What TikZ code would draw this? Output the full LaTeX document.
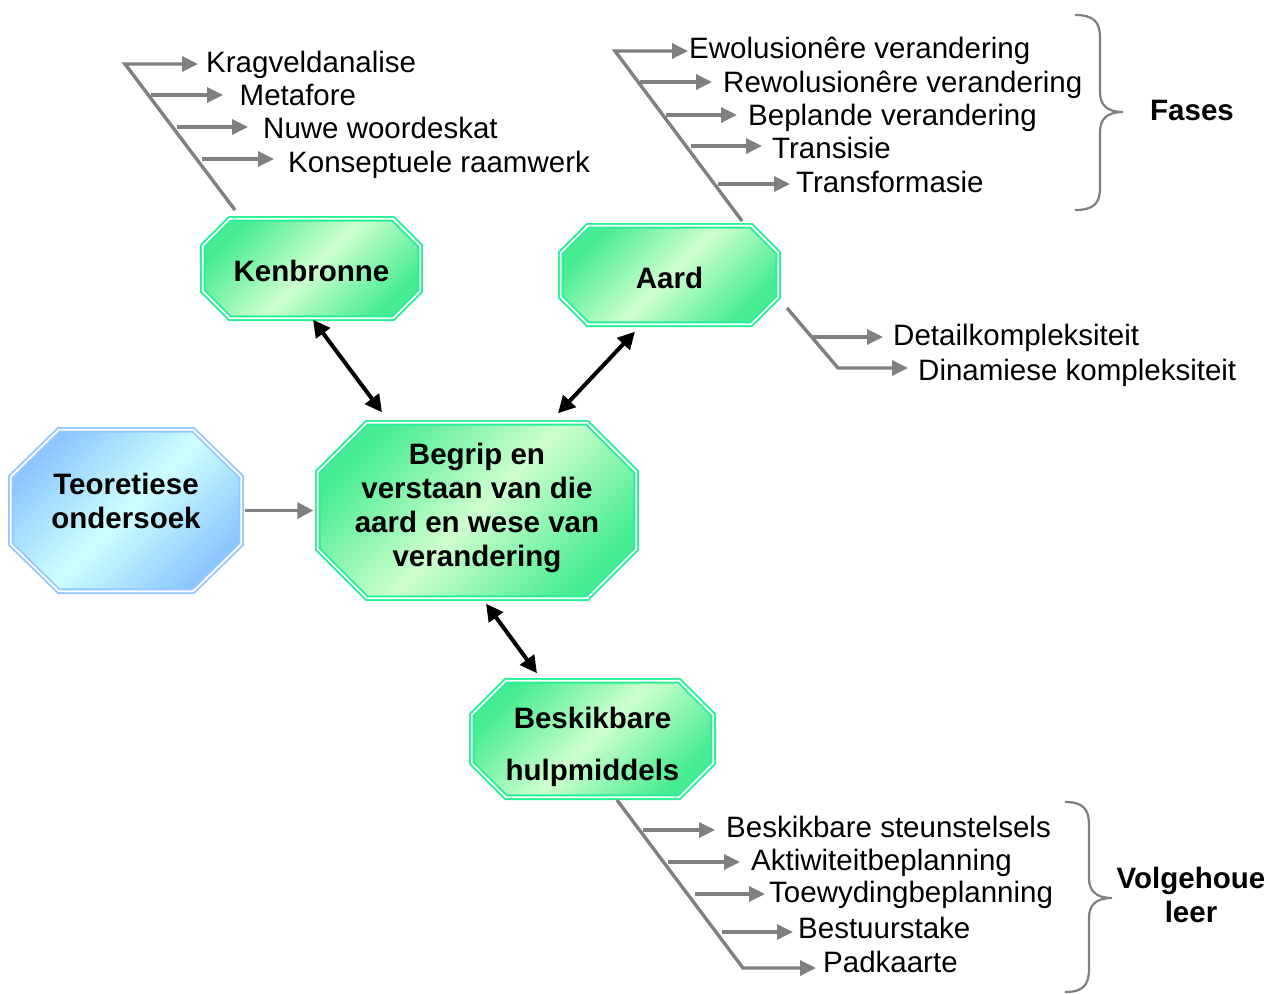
\documentclass[tikz,border=0pt]{standalone}
\usepackage{fontspec}
\setmainfont{Liberation Sans}
\usetikzlibrary{arrows.meta,backgrounds}

\definecolor{boxgreen}{RGB}{40,240,150}
\definecolor{greenedge}{RGB}{70,236,145}
\definecolor{greenmid}{RGB}{206,255,206}
\definecolor{boxblue}{RGB}{150,200,255}
\definecolor{blueedge}{RGB}{140,198,255}
\definecolor{bluemid}{RGB}{206,255,255}
\definecolor{branchgray}{RGB}{128,128,128}

\tikzset{
  item/.style={font=\fontsize{29.5}{34}\selectfont, anchor=base west, inner sep=0pt},
  boxlabel/.style={font=\fontsize{29.5}{34}\selectfont\bfseries, align=center, inner sep=0pt},
  box/.style={rectangle, inner sep=0pt},
  greenoct/.style={top color=greenedge, bottom color=greenedge, middle color=greenmid,
    shading angle=45, draw=boxgreen, double=white, double distance=1.8pt, line width=1.9pt},
  blueoct/.style={top color=blueedge, bottom color=blueedge, middle color=bluemid,
    shading angle=45, draw=boxblue, double=white, double distance=1.8pt, line width=1.9pt},
  branch/.style={draw=branchgray, line width=3.4pt, -{Triangle[length=16pt,width=15pt]}},
  link/.style={line width=4pt, {Triangle[length=17pt,width=17pt]}-{Triangle[length=17pt,width=17pt]}},
  feed/.style={draw=branchgray, line width=3.4pt, -{Triangle[length=16pt,width=16pt]}},
  bracket/.style={draw=branchgray, line width=2.2pt},
}

% octagon with cut corners drawn on the rectangle of a node
\newcommand\octoutline[4]{%
  \path[#4] ([xshift=#2]#1.north west) -- ([xshift=-#2]#1.north east)
    -- ([yshift=-#3]#1.north east) -- ([yshift=#3]#1.south east)
    -- ([xshift=-#2]#1.south east) -- ([xshift=#2]#1.south west)
    -- ([yshift=#3]#1.south west) -- ([yshift=-#3]#1.north west) -- cycle;}

\begin{document}
\begin{tikzpicture}[x=1pt,y=-1pt]
\useasboundingbox (0,0) rectangle (1270,994);

% boxes
\node[box, minimum width=217pt, minimum height=99pt,
  label={[boxlabel,yshift=-2.5pt]center:Kenbronne}] (ken) at (311.5,268.5) {};
\node[box, minimum width=217pt, minimum height=98pt,
  label={[boxlabel,yshift=-3pt]center:Aard}] (aard) at (669.5,275) {};
\node[box, minimum width=318pt, minimum height=175pt,
  label={[boxlabel,yshift=2.5pt]center:{Begrip en\\verstaan van die\\aard en wese van\\verandering}}] (beg) at (477,510.5) {};
\node[box, minimum width=230pt, minimum height=161pt,
  label={[boxlabel,yshift=10pt]center:{Teoretiese\\ondersoek}}] (teo) at (126,510.5) {};
\node[box, minimum width=241pt, minimum height=116pt,
  label={[boxlabel,yshift=-7.4pt]center:{Beskikbare\\[18pt]hulpmiddels}}] (besk) at (592.5,739) {};

\begin{scope}[on background layer]
  \fill[white] (0,0) rectangle (1270,994);
  \octoutline{ken}{27pt}{27pt}{greenoct}
  \octoutline{aard}{27pt}{27pt}{greenoct}
  \octoutline{beg}{49pt}{49pt}{greenoct}
  \octoutline{teo}{48pt}{47pt}{blueoct}
  \octoutline{besk}{34pt}{34pt}{greenoct}
\end{scope}

% links between the boxes
\draw[link] ([xshift=1.5pt,yshift=-1.5pt]ken.south) -- ([xshift=-95pt,yshift=10.5pt]beg.north);
\draw[link] ([xshift=-34.5pt,yshift=-7.5pt]aard.south) -- ([xshift=81pt,yshift=9.5pt]beg.north);
\draw[link] ([xshift=9pt,yshift=-5.5pt]beg.south) -- ([xshift=-55.5pt,yshift=7.5pt]besk.north);
\draw[feed] ([xshift=3.5pt]teo.east) -- ([xshift=-4.5pt]beg.west);

% Kenbronne branch
\draw[branch] (235,210) -- (125,64) -- (198,64);
\draw[branch] (151,95) -- (223,95);
\draw[branch] (177,127) -- (248,127);
\draw[branch] (202,159) -- (274,159);
\node[item] (k1) at (206,72) {Kragveldanalise};
\node[item] (k2) at (239.5,105) {Metafore};
\node[item] (k3) at (263,138) {Nuwe woordeskat};
\node[item] (k4) at (288,172) {Konseptuele raamwerk};

% Aard branch
\draw[branch] (742,221) -- (615,51) -- (688,51);
\draw[branch] (640,82) -- (712,82);
\draw[branch] (666,115) -- (737,115);
\draw[branch] (691,146) -- (762,146);
\draw[branch] (718,184) -- (790,184);
\node[item] (a1) at (689,58) {Ewolusionêre verandering};
\node[item] (a2) at (723,92) {Rewolusionêre verandering};
\node[item] (a3) at (748,125) {Beplande verandering};
\node[item] (a4) at (772,158) {Transisie};
\node[item] (a5) at (796,192) {Transformasie};

% phases brace
\draw[bracket] (1075,15) .. controls (1094,15) and (1100,22) .. (1100,38) -- (1100,92)
  .. controls (1100,105) and (1107,112) .. (1123,112)
  .. controls (1107,112) and (1100,119) .. (1100,132) -- (1100,188)
  .. controls (1100,203) and (1094,210) .. (1075,210);
\node[item, font=\fontsize{29.5}{34}\selectfont\bfseries] (fases) at (1150,120) {Fases};

% complexity branch
\draw[branch] (787,308) -- (838,368) -- (908,368);
\draw[branch] (813,337) -- (883,337);
\node[item] (d1) at (893,345) {Detailkompleksiteit};
\node[item] (d2) at (918,380) {Dinamiese kompleksiteit};

% tools branch
\draw[branch] (617,800) -- (743,968) -- (816,968);
\draw[branch] (643,830) -- (715,830);
\draw[branch] (668,862) -- (740,862);
\draw[branch] (695,894) -- (765,894);
\draw[branch] (722,932) -- (793,932);
\node[item] (b1) at (726,837) {Beskikbare steunstelsels};
\node[item] (b2) at (751,870) {Aktiwiteitbeplanning};
\node[item] (b3) at (769,902) {Toewydingbeplanning};
\node[item] (b4) at (798,938) {Bestuurstake};
\node[item] (b5) at (823,972) {Padkaarte};

% sustained learning brace
\draw[bracket] (1065,802) .. controls (1083,802) and (1089,809) .. (1089,825) -- (1089,878)
  .. controls (1089,891) and (1096,898) .. (1112,898)
  .. controls (1096,898) and (1089,905) .. (1089,918) -- (1089,969)
  .. controls (1089,985) and (1083,992) .. (1065,992);
\node[boxlabel] (volg) at (1191,895.4) {Volgehoue\\leer};
\end{tikzpicture}
\end{document}
